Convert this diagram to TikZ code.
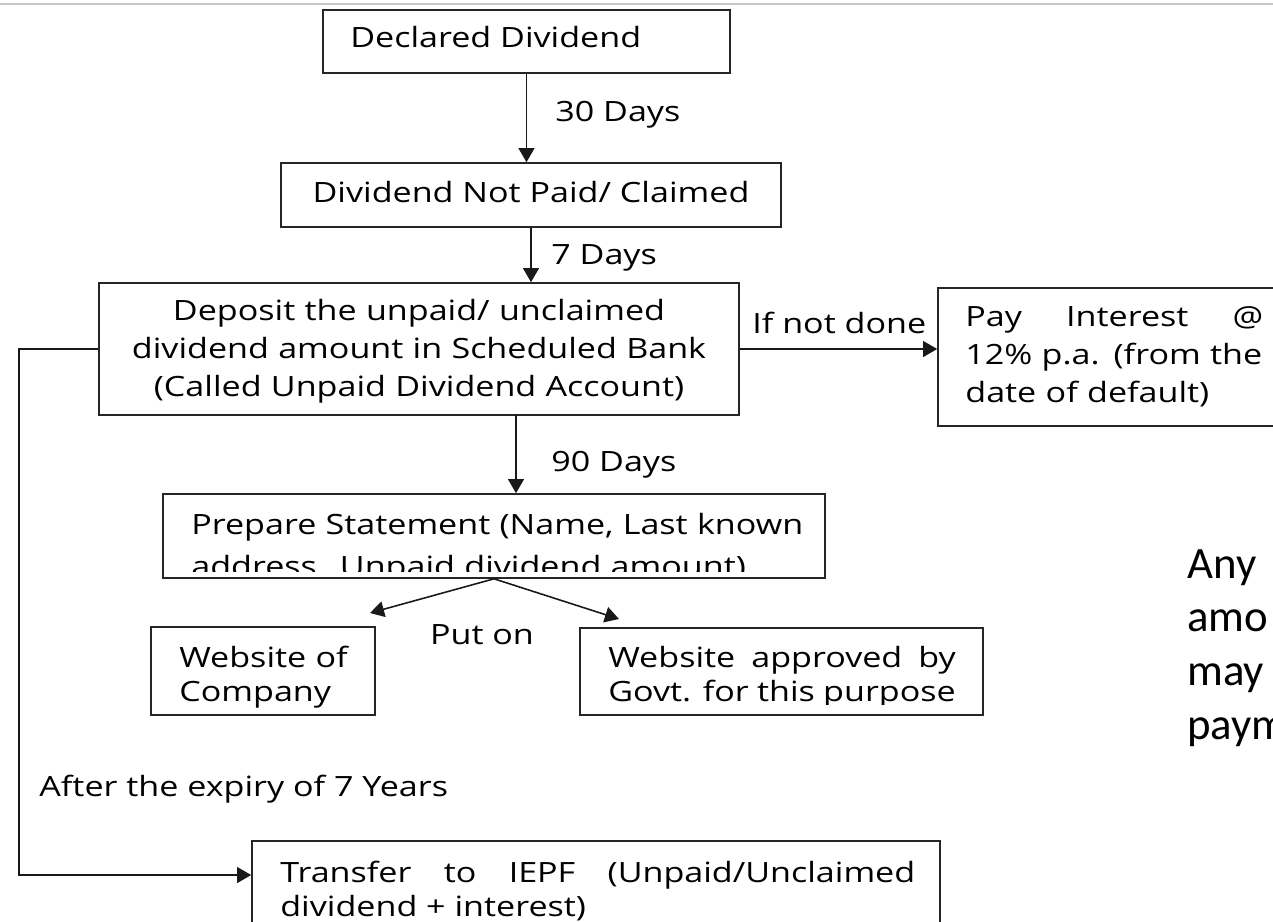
\documentclass[tikz,border=0pt]{standalone}
\usepackage{fontspec}
\setmainfont{Open Sans}[FakeStretch=1.22]
\newfontfamily\sidefont{Carlito}
\usetikzlibrary{arrows.meta,fit}

\newcommand\mainsz{\fontsize{15.9pt}{21.9pt}\selectfont}
\newcommand\tightsz{\fontsize{15.9pt}{19.9pt}\selectfont}

\tikzset{
  box/.style={draw=black!85, line width=0.9pt, inner sep=0pt},
  txt/.style={inner sep=0pt, font=\mainsz, anchor=base west},
  conn/.style={draw=black!90, line width=0.9pt, -{Triangle[length=8pt,width=9pt]}},
}

\begin{document}
\begin{tikzpicture}[x=0.02cm, y=-0.02cm]
\useasboundingbox (0,0) rectangle (1273,921);

% thin rule along the top
\draw[black!22, line width=1.2pt] (0,4) -- (1273,4);

% boxes
\node[box, fit={(323,10) (730,73)}]    (decl)    {};
\node[box, fit={(281,163) (781,227)}]  (notpaid) {};
\node[box, fit={(99,283) (739,415)}]   (deposit) {};
\node[box, fit={(938,288) (1300,426)}] (pay)     {};
\node[box, fit={(163,494) (825,578)}]  (prep)    {};
\node[box, fit={(151,627) (375,715)}]  (webco)   {};
\node[box, fit={(580,628) (983,715)}]  (webgov)  {};
\node[box, fit={(252,841) (940,945)}]  (iepf)    {};

% box texts
\node[txt] (decltxt) at (350,47) {Declared Dividend};
\node[txt, anchor=base] (notpaidtxt) at (531,202) {Dividend Not Paid/ Claimed};
\node[txt, anchor=base, text width=12.8cm, align=center] (deposittxt) at (419,320)
  {Deposit the unpaid/ unclaimed\\dividend amount in Scheduled Bank\\(Called Unpaid Dividend Account)};
\node[txt, text width=6.4cm, align=left] (paytxt) at (965,326)
  {\hbox to 5.96cm{Pay\hfill Interest\hfill @}\\12\% p.a. (from the\\date of default)};
\begin{scope}
  % the statement text is cut off a little above the frame
  \clip (prep.north west) rectangle (825,571);
  \node[txt, text width=13cm, align=left, font=\fontsize{15.9pt}{23.9pt}\selectfont] (preptxt) at (191,534)
    {Prepare Statement (Name, Last known\\address. Unpaid dividend amount)};
\end{scope}
\node[txt, text width=4cm, align=left, font=\tightsz] (webcotxt) at (179,667)
  {Website of\\Company};
\begin{scope}
  \clip (webgov.north west) rectangle (983,704);
  \node[txt, text width=6.95cm, align=justify, font=\tightsz] (webgovtxt) at (608,667)
    {Website approved by\linebreak Govt. for this purpose};
\end{scope}
\begin{scope}
  \clip (iepf.south west) rectangle (iepf.north east);
  \node[txt, text width=12.7cm, align=justify, font=\tightsz] (iepftxt) at (280,882)
    {Transfer to IEPF (Unpaid/Unclaimed\linebreak dividend + interest)};
\end{scope}

% connectors
\draw[conn] (decl.south) -- (decl.south |- notpaid.north);
\draw[conn] (notpaid.south) -- (notpaid.south |- deposit.north);
\draw[conn] (deposit.east) -- (deposit.east -| pay.west);
\coordinate (d90) at (516,415);
\draw[conn] (d90) -- (d90 |- prep.north);
\coordinate (fanL) at (370,613);
\coordinate (fanR) at (619,619);
\draw[conn] (prep.south) -- (fanL);
\draw[conn] (prep.south) -- (fanR);
\coordinate (bend) at (19,875);
\draw[conn] (deposit.west) -| (bend) -- (bend -| iepf.west);

% connector labels
\node[txt] (l30) at (555,121) {30 Days};
\node[txt] (l7)  at (551,264) {7 Days};
\node[txt] (lifnot) at (752,333) {If not done};
\node[txt] (l90) at (551,471) {90 Days};
\node[txt, anchor=base] (lput) at (482,644) {Put on};
\node[txt] (lafter) at (39,796) {After the expiry of 7 Years};

% side note running off the edge
\node[inner sep=0pt, anchor=base west, text width=3cm, align=left,
      font=\sidefont\fontsize{25.5pt}{30.7pt}\selectfont] (side) at (1187,578)
  {Any\\amo\\may\\paym};
\end{tikzpicture}
\end{document}
